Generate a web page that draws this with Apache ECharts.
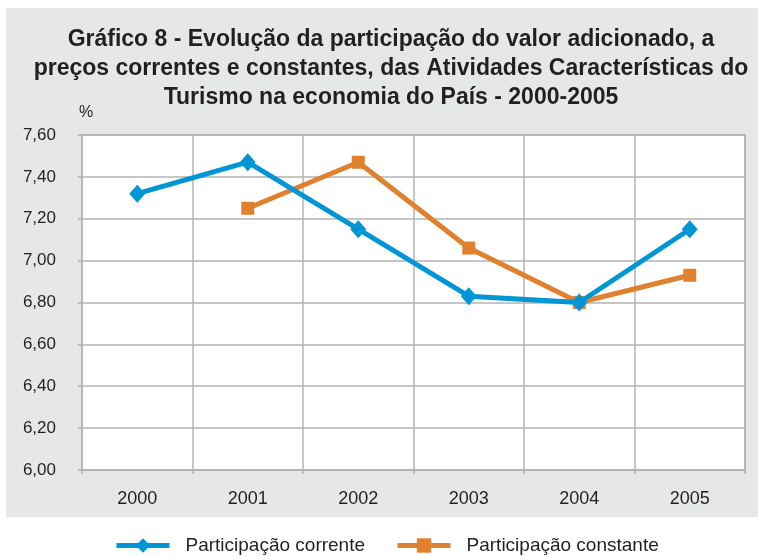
<!DOCTYPE html>
<html>
<head>
<meta charset="utf-8">
<script src="https://cdn.jsdelivr.net/npm/echarts@6/dist/echarts.min.js"></script>
<style>html,body{margin:0;padding:0;background:#fff}#c{width:758px;height:556px}</style>
</head>
<body>
<div id="c"></div>
<script>
var categories = ['2000', '2001', '2002', '2003', '2004', '2005'];
var corrente = [7.32, 7.47, 7.15, 6.83, 6.80, 7.15];
var constante = [null, 7.25, 7.47, 7.06, 6.80, 6.93];
var seriesNames = ['Participação corrente', 'Participação constante'];
var titleText = 'Gráfico 8 - Evolução da participação do valor adicionado, a\npreços correntes e constantes, das Atividades Características do\nTurismo na economia do País - 2000-2005';

var chart = echarts.init(document.getElementById('c'), null, {renderer: 'canvas'});
var font = 'Liberation Sans, Arial, Helvetica, sans-serif';
chart.setOption({
  backgroundColor: '#ffffff',
  animation: false,
  graphic: [
    {type: 'rect', z: -10, shape: {x: 6, y: 8, width: 752, height: 509}, style: {fill: '#e6e7e8'}},
    {type: 'text', left: 79, top: 105, style: {text: '%', font: '16px ' + font, fill: '#231f20'}},
    {type: 'text', x: 391, y: 25, z: 10, style: {
      text: titleText, textAlign: 'center', textVerticalAlign: 'top',
      fontFamily: font, fontWeight: 'bold', fontSize: 23, lineHeight: 29, fill: '#231f20'
    }}
  ],
  grid: {
    left: 82, right: 13, top: 135, bottom: 86,
    show: true, backgroundColor: '#ffffff', borderColor: '#b3b3b3', borderWidth: 1.5
  },
  legend: {
    left: 109, top: 531,
    itemWidth: 53, itemHeight: 18, itemGap: 30,
    lineStyle: {width: 5},
    textStyle: {fontFamily: font, fontSize: 19, color: '#231f20', padding: [0, 0, 0, 11]},
    data: seriesNames
  },
  xAxis: {
    type: 'category',
    data: categories,
    boundaryGap: true,
    axisLine: {show: true, lineStyle: {color: '#b3b3b3', width: 1.5}},
    axisTick: {show: true, length: 4, lineStyle: {color: '#b3b3b3', width: 1.5}},
    splitLine: {show: true, lineStyle: {color: '#b3b3b3', width: 1.5}},
    axisLabel: {fontFamily: font, fontSize: 18, color: '#231f20', margin: 20}
  },
  yAxis: {
    type: 'value',
    min: 6.0, max: 7.6, interval: 0.2,
    axisLine: {show: false},
    axisTick: {show: true, length: 4, lineStyle: {color: '#b3b3b3', width: 1.5}},
    splitLine: {show: true, lineStyle: {color: '#b3b3b3', width: 1.5}},
    axisLabel: {
      fontFamily: font, fontSize: 17, color: '#231f20', margin: 26,
      formatter: function (v) { return v.toFixed(2).replace('.', ','); }
    }
  },
  series: [
    {
      name: seriesNames[0], type: 'line', data: corrente,
      symbol: 'diamond', symbolSize: [16, 18],
      lineStyle: {color: '#0095d5', width: 5},
      itemStyle: {color: '#0095d5'},
      z: 3
    },
    {
      name: seriesNames[1], type: 'line', data: constante,
      symbol: 'rect', symbolSize: 13,
      lineStyle: {color: '#e0812f', width: 5},
      itemStyle: {color: '#e0812f'},
      z: 2
    }
  ]
});
</script>
</body>
</html>
